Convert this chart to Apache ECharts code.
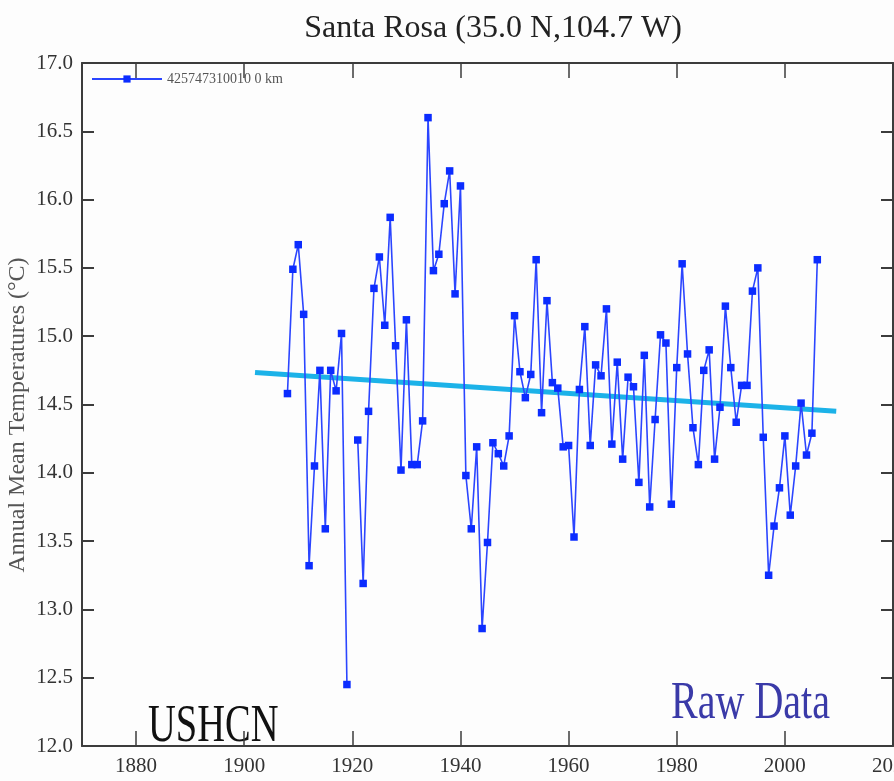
<!DOCTYPE html>
<html>
<head>
<meta charset="utf-8">
<script src="https://cdn.jsdelivr.net/npm/echarts@6/dist/echarts.min.js"></script>
<style>
html,body{margin:0;padding:0;overflow:hidden;background:#fdfdfd;}
#chart{width:900px;height:781px;}
</style>
</head>
<body>
<div id="chart"></div>
<script>
var years = [1908,1909,1910,1911,1912,1913,1914,1915,1916,1917,1918,1919,1920,1921,1922,1923,1924,1925,1926,1927,1928,1929,1930,1931,1932,1933,1934,1935,1936,1937,1938,1939,1940,1941,1942,1943,1944,1945,1946,1947,1948,1949,1950,1951,1952,1953,1954,1955,1956,1957,1958,1959,1960,1961,1962,1963,1964,1965,1966,1967,1968,1969,1970,1971,1972,1973,1974,1975,1976,1977,1978,1979,1980,1981,1982,1983,1984,1985,1986,1987,1988,1989,1990,1991,1992,1993,1994,1995,1996,1997,1998,1999,2000,2001,2002,2003,2004,2005,2006];
var temps = [14.58,15.49,15.67,15.16,13.32,14.05,14.75,13.59,14.75,14.60,15.02,12.45,null,14.24,13.19,14.45,15.35,15.58,15.08,15.87,14.93,14.02,15.12,14.06,14.06,14.38,16.60,15.48,15.60,15.97,16.21,15.31,16.10,13.98,13.59,14.19,12.86,13.49,14.22,14.14,14.05,14.27,15.15,14.74,14.55,14.72,15.56,14.44,15.26,14.66,14.62,14.19,14.20,13.53,14.61,15.07,14.20,14.79,14.71,15.20,14.21,14.81,14.10,14.70,14.63,13.93,14.86,13.75,14.39,15.01,14.95,13.77,14.77,15.53,14.87,14.33,14.06,14.75,14.90,14.10,14.48,15.22,14.77,14.37,14.64,14.64,15.33,15.50,14.26,13.25,13.61,13.89,14.27,13.69,14.05,14.51,14.13,14.29,15.56];
var trendYears = [1902, 2009.5];
var trendValues = [14.735, 14.45];
var xTicks = [1880,1900,1920,1940,1960,1980,2000,2020];
var seriesName = '425747310010 0 km';
var titleText = 'Santa Rosa (35.0 N,104.7 W)';
var yName = 'Annual Mean Temperatures (\u00B0C)';

var dataPts = years.map(function(y,i){ return [y, temps[i] == null ? '-' : temps[i]]; });
var trendPts = trendYears.map(function(y,i){ return [y, trendValues[i]]; });

var SERIF = '"Liberation Serif","DejaVu Serif",serif';
var frame = '#3c3c3c';
var chart = echarts.init(document.getElementById('chart'));
var gridCfg = {left:82, top:63, width:811, height:683, containLabel:false, outerBoundsMode:'none'};

function xAx(pos){
  return {
    type:'value', position:pos, min:1870, max:2020,
    axisLine:{show:true, onZero:false, lineStyle:{color:frame, width:2}},
    axisTick:{show:true, inside:true, length:15, customValues:xTicks, lineStyle:{color:frame, width:1.5}},
    axisLabel:{show:pos==='bottom', customValues:xTicks, margin:10, color:'#333', fontFamily:SERIF, fontSize:21,
      hideOverlap:false, formatter:function(v){return String(v);}},
    splitLine:{show:false}
  };
}
function yAx(pos){
  return {
    type:'value', position:pos, min:12, max:17, interval:0.5,
    axisLine:{show:true, onZero:false, lineStyle:{color:frame, width:2}},
    axisTick:{show:true, inside:true, length:12, lineStyle:{color:frame, width:2}},
    axisLabel:{show:pos==='left', margin:9, color:'#333', fontFamily:SERIF, fontSize:21,
      formatter:function(v){return v.toFixed(1);}},
    splitLine:{show:false}
  };
}

chart.setOption({
  backgroundColor:'#fdfdfd',
  animation:false,
  title:{text:titleText, left:488, top:8, textAlign:'center',
    textStyle:{fontFamily:SERIF, fontSize:32, fontWeight:'normal', color:'#222'}},
  grid:gridCfg,
  legend:{data:[seriesName], left:86, top:67, itemWidth:70, itemHeight:9, itemGap:5,
    textStyle:{fontFamily:SERIF, fontSize:14, color:'#555'}},
  xAxis:[xAx('bottom'), xAx('top')],
  yAxis:[yAx('left'), yAx('right')],
  graphic:[
    {type:'text', x:18, y:415, rotation:Math.PI/2,
      style:{text:yName, fontFamily:SERIF, fontSize:24, fill:'#555', align:'center', verticalAlign:'middle'}},
    {type:'text', x:148, y:701, scaleX:0.74,
      style:{text:'USHCN', fontFamily:SERIF, fontSize:52, fill:'#111', align:'left', verticalAlign:'alphabetic'}},
    {type:'text', x:671, y:678, scaleX:0.77,
      style:{text:'Raw Data', fontFamily:SERIF, fontSize:52, fill:'#3a3aa8', align:'left', verticalAlign:'alphabetic'}}
  ],
  series:[
    {name:'trend', type:'line', xAxisIndex:0, yAxisIndex:0, data:trendPts, symbol:'none',
      lineStyle:{color:'#1cb2e8', width:5}, z:2, silent:true},
    {name:seriesName, type:'line', xAxisIndex:0, yAxisIndex:0, data:dataPts, connectNulls:false,
      symbol:'rect', symbolSize:7.5, itemStyle:{color:'#0b2cff'},
      lineStyle:{color:'#2b45ff', width:1.6}, z:3}
  ]
});
</script>
</body>
</html>
